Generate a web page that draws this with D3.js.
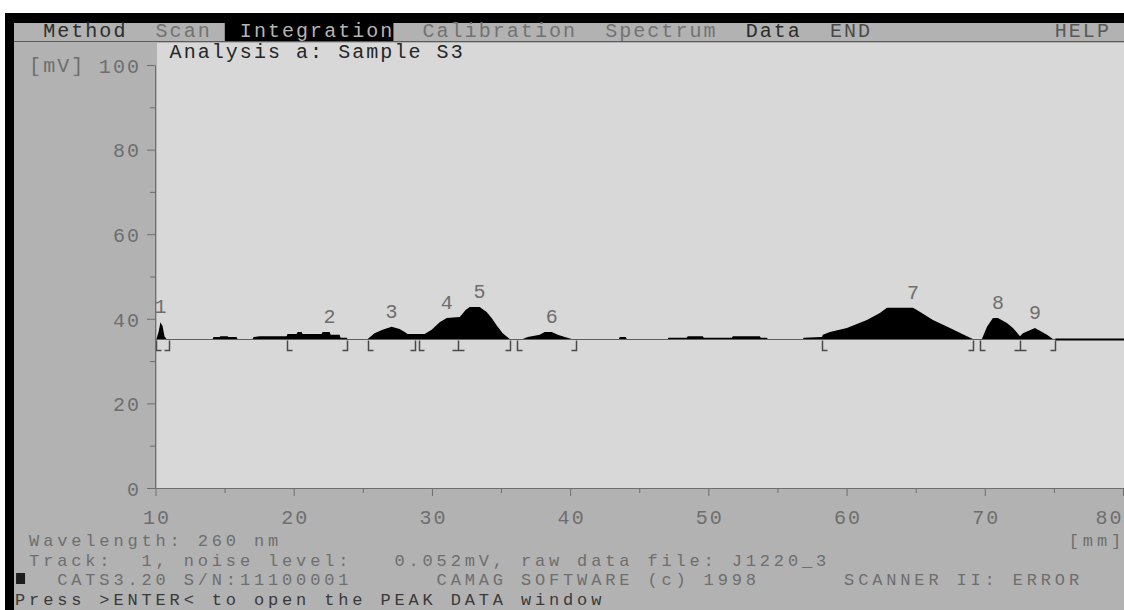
<!doctype html>
<html>
<head>
<meta charset="utf-8">
<script src="https://cdnjs.cloudflare.com/ajax/libs/d3/7.8.5/d3.min.js"></script>
<style>
body { margin: 0; background: #fff; overflow: hidden; }
text { font-family: "Liberation Mono", "DejaVu Sans Mono", monospace; font-size: 20px; letter-spacing: 2.05px; white-space: pre; }
text.status { font-size: 17px; letter-spacing: 3.85px; }
</style>
</head>
<body>
<script>
// scan of track 1, position on plate [mm] and signal [mV]
const scanPos = [10.0, 10.07, 10.22, 10.36, 10.51, 10.65, 10.80, 14.13, 14.20, 14.63, 14.70, 15.21, 15.28, 15.86, 15.94,
  17.02, 17.10, 17.53, 19.48, 19.55, 20.21, 20.28, 20.57, 20.64, 22.02, 22.09, 22.60, 22.67, 23.32, 23.39, 23.83, 23.90,
  25.35, 25.85, 26.43, 27.08, 27.66, 28.03, 28.24, 29.47, 29.98, 30.56, 31.07, 32.01, 32.44, 32.73, 33.45, 33.96, 34.32,
  34.68, 35.12, 35.63, 36.57, 36.93, 37.80, 38.16, 38.67, 39.10, 39.61, 40.11, 43.52, 43.59, 44.02, 44.10, 47.06, 47.10,
  48.44, 48.50, 49.60, 49.67, 51.70, 51.77, 53.72, 53.79, 54.23, 54.30, 56.84, 56.90, 58.21, 58.29, 58.79, 60.02, 61.47,
  62.41, 62.92, 64.80, 65.09, 66.25, 67.48, 68.71, 69.14, 69.79, 70.16, 70.59, 70.95, 71.60, 72.04, 72.55, 72.76, 73.63,
  74.50, 74.93, 80.0]
const scanMV = [35.2, 35.2, 36.9, 39.2, 38.3, 35.9, 35.2, 35.2, 35.7, 35.7, 35.9, 35.9, 35.7, 35.7, 35.2,
  35.2, 35.7, 35.9, 35.9, 36.4, 36.4, 36.9, 36.9, 36.4, 36.4, 36.9, 36.9, 36.2, 36.2, 35.5, 35.5, 35.2,
  35.2, 36.6, 37.4, 38.1, 37.6, 36.9, 36.4, 36.4, 37.4, 39.2, 40.2, 40.4, 42.1, 42.8, 42.8, 41.6, 40.2,
  38.5, 36.6, 35.2, 35.2, 35.7, 36.2, 36.9, 36.9, 36.2, 35.7, 35.2, 35.2, 35.7, 35.7, 35.2, 35.2, 35.5,
  35.5, 35.9, 35.9, 35.5, 35.5, 35.9, 35.9, 35.5, 35.5, 35.2, 35.2, 35.5, 35.7, 36.2, 36.9, 37.8, 39.7,
  41.4, 42.6, 42.6, 42.1, 39.7, 37.8, 35.9, 35.2, 35.2, 38.1, 40.2, 40.2, 39.0, 37.8, 35.9, 36.6, 37.8,
  36.2, 35.2, 35.2]
const baseMV = 35.2

// integration windows
const peakNo = [1, 2, 3, 4, 5, 6, 7, 8, 9]
const peakStart = [10.07, 19.48, 25.35, 29.10, 31.86, 36.15, 58.21, 69.65, 72.55]
const peakEnd = [11.00, 23.83, 28.75, 31.86, 35.63, 40.45, 69.14, 72.55, 75.10]

const yTicks = [0, 20, 40, 60, 80, 100]
const yMinor = [10, 30, 50, 70, 90]
const xTicks = [10, 20, 30, 40, 50, 60, 70, 80]
const xMinor = [15, 25, 35, 45, 55, 65, 75]

const menuItems = ['Method', 'Scan', 'Integration', 'Calibration', 'Spectrum', 'Data', 'END', 'HELP']
const menuCols = [3, 11, 17, 30, 43, 53, 59, 75]
const menuColors = ['#2c2c2c', '#727272', '#b4b4b4', '#727272', '#727272', '#2c2c2c', '#4a4a4a', '#585858']
const activeMenu = 'Integration'

const title = 'Analysis a: Sample S3'
const statusLines = [
  '  Wavelength: 260 nm',
  '  Track:  1, noise level:   0.052mV, raw data file: J1220_3',
  '    CATS3.20 S/N:11100001      CAMAG SOFTWARE (c) 1998      SCANNER II: ERROR',
  ' Press >ENTER< to open the PEAK DATA window'
]

const W = 1124, H = 610
const CW = W / 80   // text column width
const GRAY = '#b2b2b2', PLOT = '#d8d8d8', INK = '#6e6e6e'

const svg = d3.select('body').append('svg')
  .attr('width', W)
  .attr('height', H)

// screen frame
svg.append('rect').attr('x', 14).attr('y', 23).attr('width', W - 14).attr('height', H - 23).attr('fill', GRAY)
svg.append('rect').attr('x', 5).attr('y', 13).attr('width', W - 5).attr('height', 10).attr('fill', '#000')
svg.append('rect').attr('x', 5).attr('y', 13).attr('width', 9).attr('height', H - 13).attr('fill', '#000')

// menu bar
const ai = menuItems.indexOf(activeMenu)
svg.append('rect')
  .attr('x', (menuCols[ai] - 1) * CW)
  .attr('y', 23)
  .attr('width', (activeMenu.length + 1) * CW)
  .attr('height', 18)
  .attr('fill', '#000')
svg.append('line').attr('x1', 14).attr('x2', W).attr('y1', 41.5).attr('y2', 41.5)
  .attr('stroke', '#5c5c5c')
svg.selectAll('text.menu')
  .data(menuItems)
  .enter()
  .append('text')
  .attr('class', 'menu')
  .attr('x', (d, i) => menuCols[i] * CW + 1)
  .attr('y', 37)
  .attr('fill', (d, i) => menuColors[i])
  .text(d => d)

// scales
const x = d3.scaleLinear().domain([10, 80]).range([155.5, 1123])
const y = d3.scaleLinear().domain([0, 100]).range([488, 65])

// plot area
svg.append('rect')
  .attr('x', 157).attr('y', 43)
  .attr('width', W - 157).attr('height', y(0) - 43)
  .attr('fill', PLOT)

svg.append('text')
  .attr('x', 12 * CW + 1)
  .attr('y', 58)
  .attr('fill', '#262626')
  .text(title)

// signal
const scan = scanPos.map((p, i) => ({ pos: p, mv: scanMV[i] }))
const area = d3.area()
  .x(d => x(d.pos))
  .y0(y(baseMV))
  .y1(d => y(d.mv))
svg.append('path')
  .datum(scan)
  .attr('d', area)
  .attr('fill', '#000')

// baseline: dotted inside the integrated range, solid after it
const lastEnd = d3.max(peakEnd)
const by = Math.round(y(baseMV)) + 0.5
svg.append('line')
  .attr('x1', x(10)).attr('x2', x(lastEnd)).attr('y1', by).attr('y2', by)
  .attr('stroke', '#a4a4a4')
svg.append('line')
  .attr('x1', x(10)).attr('x2', x(lastEnd)).attr('y1', by).attr('y2', by)
  .attr('stroke', '#1a1a1a')
  .attr('stroke-dasharray', '1,1')
svg.append('line')
  .attr('x1', x(lastEnd)).attr('x2', W).attr('y1', by).attr('y2', by)
  .attr('stroke', '#000')
  .attr('stroke-width', 2)

// integration brackets
const marks = []
peakNo.forEach((n, i) => {
  if (i == 0 || peakStart[i] != peakEnd[i - 1]) marks.push({ pos: peakStart[i], type: 'start' })
  if (i < peakNo.length - 1 && peakEnd[i] == peakStart[i + 1]) marks.push({ pos: peakEnd[i], type: 'both' })
  else marks.push({ pos: peakEnd[i], type: 'end' })
})
svg.selectAll('path.mark')
  .data(marks)
  .enter()
  .append('path')
  .attr('class', 'mark')
  .attr('fill', 'none')
  .attr('stroke', '#4a4a4a')
  .attr('stroke-width', 1.5)
  .attr('d', d => {
    const px = Math.round(x(d.pos)) + 0.5
    const top = by + 1, bot = by + 11
    if (d.type == 'start') return `M${px},${top}V${bot}H${px + 5}`
    if (d.type == 'end') return `M${px},${top}V${bot}H${px - 5}`
    return `M${px},${top}V${bot}M${px - 6},${bot}H${px + 6}`
  })

// peak numbers above each apex
const apex = peakNo.map((n, i) => {
  const inPeak = scan.filter(d => d.pos >= peakStart[i] && d.pos <= peakEnd[i])
  const top = d3.max(inPeak, d => d.mv)
  const at = inPeak.filter(d => d.mv == top)
  return { n: n, pos: at[at.length - 1].pos, mv: top }
})
svg.selectAll('text.peak')
  .data(apex)
  .enter()
  .append('text')
  .attr('class', 'peak')
  .attr('x', d => x(d.pos))
  .attr('y', d => y(d.mv) - 9)
  .attr('dx', 1)
  .attr('text-anchor', 'middle')
  .attr('fill', INK)
  .text(d => d.n)

// y axis
const yAxis = svg.append('g')
  .attr('transform', 'translate(155,0)')
  .style('color', INK)
  .call(d3.axisLeft(y).tickValues(yTicks).tickSize(8).tickSizeOuter(0).tickPadding(6).tickFormat(d3.format('d')))
svg.append('g')
  .attr('transform', 'translate(155,0)')
  .style('color', INK)
  .call(d3.axisLeft(y).tickValues(yMinor).tickSize(5).tickSizeOuter(0).tickFormat(''))
  .select('.domain').remove()
yAxis.selectAll('text').attr('dy', '0.36em')
svg.append('text')
  .attr('x', 2 * CW + 1)
  .attr('y', y(100) + 7)
  .attr('fill', INK)
  .text('[mV]')

// x axis
const xAxis = svg.append('g')
  .attr('transform', `translate(0,${y(0)})`)
  .style('color', INK)
  .call(d3.axisBottom(x).tickValues(xTicks).tickSize(8).tickSizeOuter(0).tickPadding(28).tickFormat(d3.format('d')))
svg.append('g')
  .attr('transform', `translate(0,${y(0)})`)
  .style('color', INK)
  .call(d3.axisBottom(x).tickValues(xMinor).tickSize(5).tickSizeOuter(0).tickFormat(''))
  .select('.domain').remove()
xAxis.select('.domain').attr('d', `M${x(10)},0.5H${W}`)
xAxis.selectAll('text').attr('dy', '0').attr('dx', 1)
xAxis.selectAll('.tick').filter(d => d == 80).select('text')
  .attr('text-anchor', 'end')
  .attr('dx', 0)

// status lines
const rowY = [546, 565.5, 585, 604.5]
svg.selectAll('text.status')
  .data(statusLines)
  .enter()
  .append('text')
  .attr('class', 'status')
  .attr('x', 1)
  .attr('y', (d, i) => rowY[i])
  .attr('fill', (d, i) => i == 3 ? '#3a3a3a' : INK)
  .text(d => d)
svg.append('text')
  .attr('class', 'status')
  .attr('x', 76 * CW + 1)
  .attr('y', rowY[0])
  .attr('fill', INK)
  .text('[mm]')

// status marker block on the CATS line
svg.append('rect')
  .attr('x', CW + 2).attr('y', rowY[2] - 12)
  .attr('width', 9).attr('height', 11)
  .attr('fill', '#1e1e1e')
</script>
</body>
</html>
